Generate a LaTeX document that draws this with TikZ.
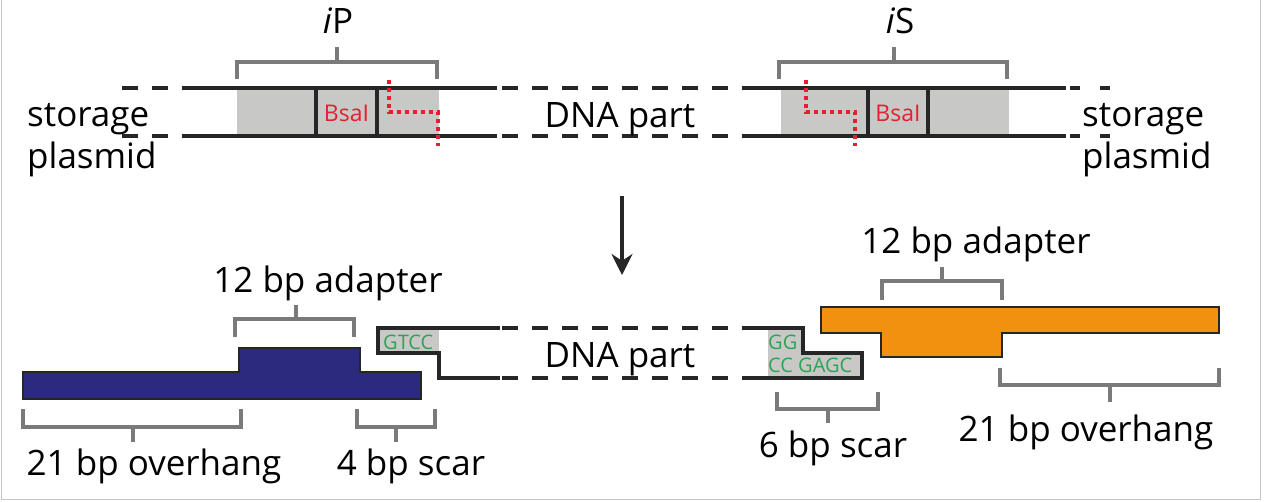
\documentclass[tikz,border=0pt]{standalone}
\usepackage{fontspec}
\setmainfont{Open Sans}
\usetikzlibrary{arrows.meta,positioning}
\definecolor{bsared}{HTML}{E5202E}
\definecolor{seqgreen}{HTML}{2FA352}
\definecolor{boxgrey}{HTML}{C8C8C7}
\definecolor{brkgrey}{HTML}{7A7A7A}
\definecolor{partblue}{HTML}{2B2A7F}
\definecolor{partorange}{HTML}{F0920F}
\definecolor{framegrey}{HTML}{C4C4C4}

\begin{document}
\begin{tikzpicture}[x=1pt, y=-1pt, >=Stealth, font=\fontsize{35}{42}\selectfont,
	   strand/.style={line width=3.8pt, black!85},
	   dstrand/.style={line width=3.8pt, black!85, dash pattern=on 16pt off 14pt},
	   brk/.style={line width=3.6pt, brkgrey, line join=miter},
	   cut/.style={line width=4pt, bsared, dash pattern=on 4pt off 4pt},
	   site/.style={font=\fontsize{23}{25}\selectfont, text=bsared, inner sep=0pt, anchor=base},
	   seq/.style={font=\fontsize{20}{23}\selectfont, text=seqgreen, inner sep=0pt, align=left},
	   lbl/.style={inner sep=0pt, anchor=base},
	   part/.style={draw=black!85, line width=2.6pt, line join=miter}]
	  \useasboundingbox (0,0) rectangle (1266,501);
	  \draw[framegrey, line width=1.5pt] (1.5,0) -- (1.5,499.5) -- (1260.5,499.5) -- (1260.5,0);
	  % storage plasmid with iP / iS
	  \fill[boxgrey] (237,88) rectangle (439,136);
	  \fill[boxgrey] (781,88) rectangle (1009,136);
	  \foreach \y in {88,136} {
	    \draw[dstrand] (122,\y) -- (185,\y);
	    \draw[strand] (185,\y) -- (497,\y);
	    \draw[dstrand] (502,\y) -- (752,\y);
	    \draw[strand] (752,\y) -- (1066,\y);
	    \draw[dstrand, dash pattern=on 10pt off 20pt] (1070,\y) -- (1113,\y);
	  }
	  \draw[strand] (316,88) -- (316,136); \draw[strand] (377,88) -- (377,136);
	  \draw[strand] (868,88) -- (868,136); \draw[strand] (928,88) -- (928,136);
	  \node[site] (bsa1) at (346.5,121) {BsaI};
	  \node[site] (bsa2) at (898,121) {BsaI};
	  \draw[cut] (389,80) -- (389,112) -- (438,112) -- (438,146);
	  \draw[cut] (806,80) -- (806,112) -- (855,112) -- (855,146);
	  \draw[brk] (237,79) -- (237,62) -- (437,62) -- (437,79); \draw[brk] (337,62) -- (337,47);
	  \draw[brk] (779,79) -- (779,62) -- (1007,62) -- (1007,79); \draw[brk] (894,62) -- (894,47);
	  \node[lbl] (ip) at (338,33) {\textit{i}P};
	  \node[lbl] (is) at (900,33) {\textit{i}S};
	  \node[inner sep=0pt, align=left, anchor=west] (sp1) at (27,140) {storage\\plasmid};
	  \node[inner sep=0pt, align=left, anchor=west] (sp2) at (1082,140) {storage\\plasmid};
	  \node[lbl] (dna1) at (620,127) {DNA part};
	  % digestion
	  \coordinate (a1) at (622,196);
	  \coordinate (a2) at (622,275);
	  \draw[line width=3.8pt, black!85, -{Stealth[length=21pt, width=21pt]}] (a1) -- (a2);
	  % fragments
	  \draw[part, fill=partblue] (23,372) -- (239,372) -- (239,348) -- (360,348) -- (360,372) -- (421,372) -- (421,399) -- (23,399) -- cycle;
	  \draw[part, fill=partorange] (821,307) -- (1219,307) -- (1219,333) -- (1002,333) -- (1002,357) -- (881,357) -- (881,333) -- (821,333) -- cycle;
	  \fill[boxgrey] (378,328) rectangle (439,353);
	  \fill[boxgrey] (768,328) -- (803,328) -- (803,353) -- (862,353) -- (862,378) -- (768,378) -- cycle;
	  \draw[strand, line join=miter] (500,328) -- (378,328) -- (378,353) -- (439,353) -- (439,378) -- (500,378);
	  \draw[strand, line join=miter] (752,328) -- (803,328) -- (803,353) -- (862,353) -- (862,378) -- (752,378);
	  \draw[dstrand] (502,328) -- (752,328);
	  \draw[dstrand] (502,378) -- (752,378);
	  \node[seq, anchor=west] (gtcc) at (383,342) {GTCC};
	  \node[seq, anchor=north west] (gagc) at (768,335) {GG\\CC GAGC};
	  \node[lbl] (dna2) at (620,367) {DNA part};
	  % brackets and sizes
	  \draw[brk] (235,337) -- (235,319) -- (354,319) -- (354,337); \draw[brk] (296,319) -- (296,305);
	  \draw[brk] (23,409) -- (23,427) -- (241,427) -- (241,409); \draw[brk] (133,427) -- (133,442);
	  \draw[brk] (357,409) -- (357,427) -- (435,427) -- (435,409); \draw[brk] (396,427) -- (396,442);
	  \draw[brk] (882,300) -- (882,281) -- (1002,281) -- (1002,300); \draw[brk] (942,281) -- (942,267);
	  \draw[brk] (1000,368) -- (1000,385) -- (1219,385) -- (1219,368); \draw[brk] (1110,385) -- (1110,402);
	  \draw[brk] (777,392) -- (777,409) -- (878,409) -- (878,392); \draw[brk] (828,409) -- (828,423);
	  \node[lbl] (ad1) at (328,292) {12 bp adapter};
	  \node[lbl] (oh1) at (154,475) {21 bp overhang};
	  \node[lbl] (sc1) at (411,475) {4 bp scar};
	  \node[lbl] (ad2) at (976,253) {12 bp adapter};
	  \node[lbl] (oh2) at (1086,441) {21 bp overhang};
	  \node[lbl] (sc2) at (833,457) {6 bp scar};
	\end{tikzpicture}
\end{document}
